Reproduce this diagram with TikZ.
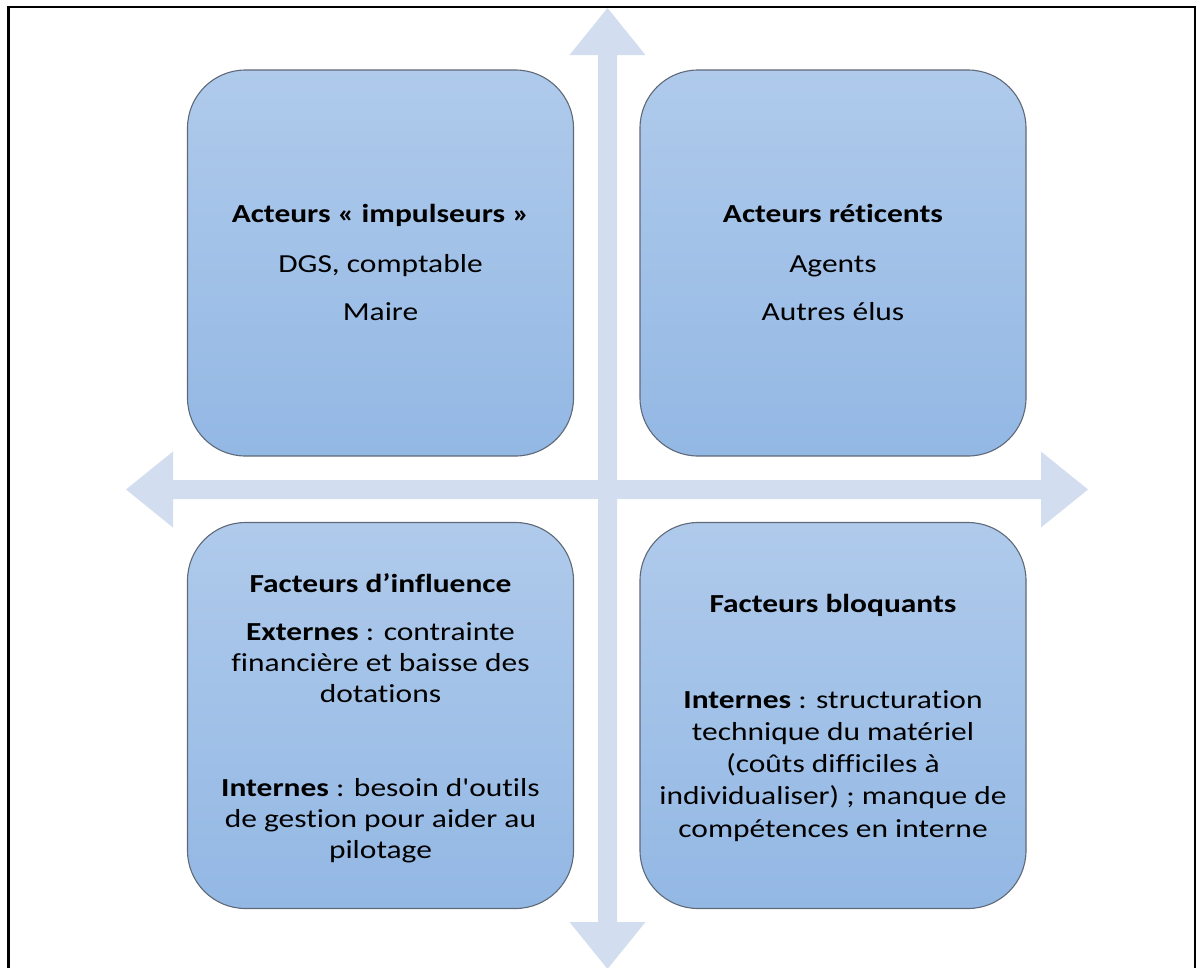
\documentclass[tikz,border=0pt]{standalone}
\usepackage{graphicx}
\usepackage{fontspec}
\setmainfont{Carlito}[Ligatures={CommonOff,TeXOff}]
\definecolor{boxtop}{RGB}{175,202,235}
\definecolor{boxbot}{RGB}{147,184,228}
\definecolor{boxline}{RGB}{95,105,120}
\definecolor{arrowcol}{RGB}{210,222,239}
\newcommand{\wide}[1]{\scalebox{1.21}[1]{#1}}
\tikzset{
  quad/.style={rectangle, rounded corners=58pt, minimum width=386pt, minimum height=386pt,
    top color=boxtop, bottom color=boxbot, draw=boxline, line width=1.1pt, inner sep=0pt},
  txt/.style={anchor=base, inner sep=0pt, font=\fontsize{26}{31}\selectfont},
  ttl/.style={txt, font=\fontsize{26}{31}\selectfont\bfseries},
  bigarrow/.style={fill=arrowcol, draw=none},
  frame/.style={draw=black, line width=2.4pt}
}
\begin{document}
\begin{tikzpicture}[x=1pt,y=-1pt]
\useasboundingbox (0,0) rectangle (1202,967);
\begin{scope}
\clip (0,0) rectangle (1202,967);
% frame (bottom edge lies outside the picture)
\draw[frame] (8.3,990) -- (8.3,6.8) -- (1195,6.8) -- (1195,990);
\end{scope}
% cross arrows
\fill[bigarrow] (607.5,8) -- (645.5,55) -- (617,55) -- (617,922) -- (645.5,922) -- (607.5,969)
  -- (569.5,922) -- (598,922) -- (598,55) -- (569.5,55) -- cycle;
\fill[bigarrow] (126,489.5) -- (173,451.5) -- (173,480) -- (1041,480) -- (1041,451.5) -- (1088,489.5)
  -- (1041,527.5) -- (1041,499) -- (173,499) -- (173,527.5) -- cycle;
% boxes
\node[quad] (tl) at (380.5,263) {};
\node[quad] (tr) at (833,263) {};
\node[quad] (bl) at (380.5,715.5) {};
\node[quad] (br) at (833,715.5) {};
% top-left text
\node[ttl] (tl1) at (380.5,222) {\wide{Acteurs « impulseurs »}};
\node[txt] (tl2) at (380.5,272) {\wide{DGS, comptable}};
\node[txt] (tl3) at (380.5,320) {\wide{Maire}};
% top-right text
\node[ttl] (tr1) at (833,222) {\wide{Acteurs réticents}};
\node[txt] (tr2) at (833,272) {\wide{Agents}};
\node[txt] (tr3) at (833,320) {\wide{Autres élus}};
% bottom-left text
\node[ttl] (bl1) at (380.5,592) {\wide{Facteurs d’influence}};
\node[txt] (bl2) at (380.5,640) {\wide{\textbf{Externes} : contrainte}};
\node[txt] (bl3) at (380.5,671) {\wide{financière et baisse des}};
\node[txt] (bl4) at (380.5,702) {\wide{dotations}};
\node[txt] (bl5) at (380.5,796) {\wide{\textbf{Internes} : besoin d'outils}};
\node[txt] (bl6) at (380.5,827) {\wide{de gestion pour aider au}};
\node[txt] (bl7) at (380.5,858) {\wide{pilotage}};
% bottom-right text
\node[ttl] (br1) at (833,612) {\wide{Facteurs bloquants}};
\node[txt] (br2) at (833,708) {\wide{\textbf{Internes} : structuration}};
\node[txt] (br3) at (833,740) {\wide{technique du matériel}};
\node[txt] (br4) at (833,772) {\wide{(coûts difficiles à}};
\node[txt] (br5) at (833,804) {\wide{individualiser) ; manque de}};
\node[txt] (br6) at (833,837) {\wide{compétences en interne}};
\end{tikzpicture}
\end{document}
